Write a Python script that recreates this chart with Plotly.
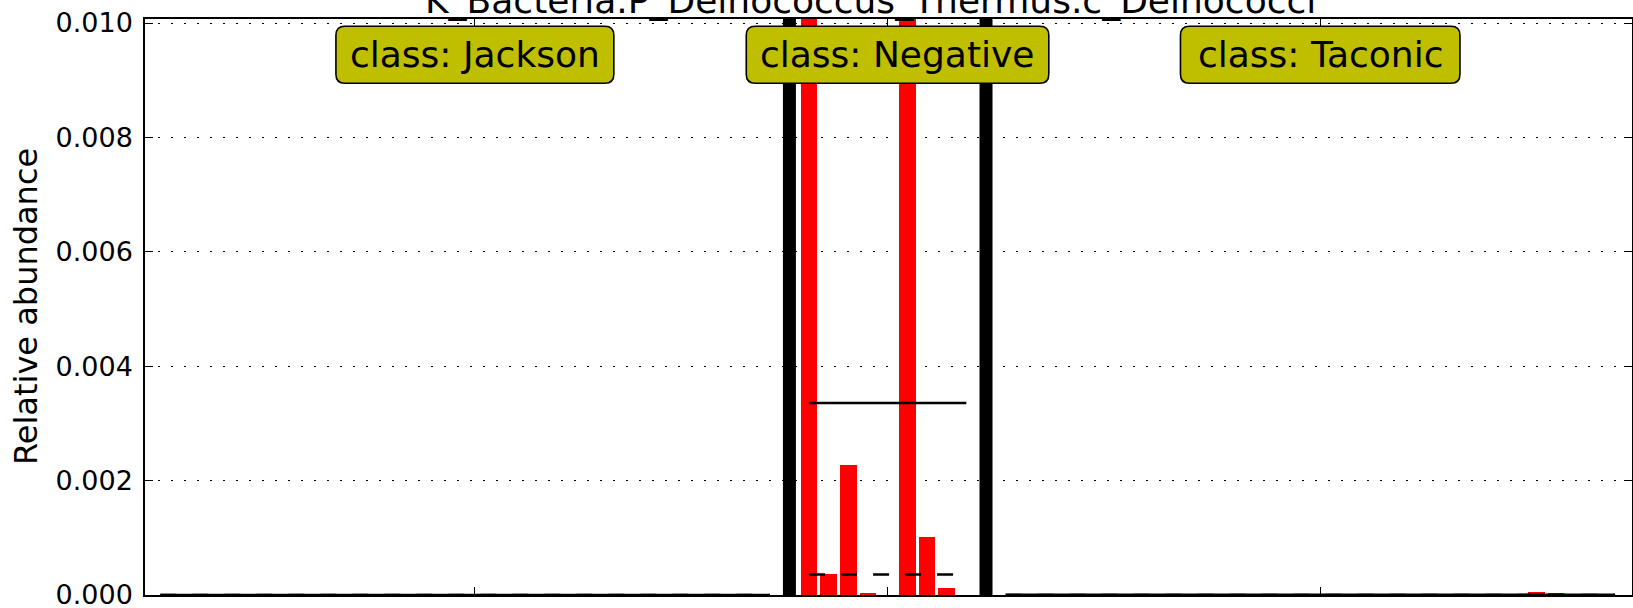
import numpy as np
import plotly.graph_objects as go

# ---------------- data ----------------
TITLE = "K_Bacteria.P_Deinococcus_Thermus.c_Deinococci"
Y_LABEL = "Relative abundance"
CLASSES = ["Jackson", "Negative", "Taconic"]

jackson = [0.0, 0.0, 0.0, 0.0, 0.0, 0.0, 0.0, 0.0,
           0.0, 0.0, 0.0, 0.0, 0.0, 0.0, 0.0, 0.0,
           0.0, 0.0, 0.0, 0.0, 0.0, 0.0, 0.0, 0.0,
           0.0, 0.0, 0.0, 0.0, 0.0, 0.0, 0.0, 0.0]
negative = [0.0152, 0.00036, 0.002275, 0.000035, 0.0,
            0.0112, 0.00101, 0.000122, 0.0]
taconic = [0.0, 0.0, 0.0, 0.0, 0.0, 0.0, 0.0, 0.0,
           0.0, 0.0, 0.0, 0.0, 0.0, 0.0, 0.0, 0.0,
           0.0, 0.0, 0.0, 0.0, 0.0, 0.0, 0.0, 0.0,
           0.0, 0.0, 0.0, 0.00005, 0.000035, 0.0, 0.0, 0.0]
VALUES = [jackson, negative, taconic]

Y_TICKS = [0.000, 0.002, 0.004, 0.006, 0.008, 0.010]
Y_MAX = 0.01007
X_RANGE = [-0.78, 74.86]

FONT = "DejaVu Sans"
BOX_COLOR = "#bfbf00"
LABEL_SIZE = 36
# DejaVu Sans advance widths (em) for estimating label box widths
CHAR_EM = {"c": 0.550, "l": 0.278, "a": 0.613, "s": 0.521, ":": 0.337, " ": 0.318,
           "J": 0.295, "k": 0.579, "o": 0.612, "n": 0.634, "N": 0.748, "e": 0.615,
           "g": 0.635, "t": 0.392, "i": 0.278, "v": 0.592, "T": 0.611}


def text_width(s, size):
    return sum(CHAR_EM.get(ch, 0.6) for ch in s) * size


def rounded_box(w, h, r):
    hw, hh = w / 2, h / 2
    return (f"M{-hw + r},{-hh} L{hw - r},{-hh} Q{hw},{-hh} {hw},{-hh + r} "
            f"L{hw},{hh - r} Q{hw},{hh} {hw - r},{hh} L{-hw + r},{hh} "
            f"Q{-hw},{hh} {-hw},{hh - r} L{-hw},{-hh + r} Q{-hw},{-hh} {-hw + r},{-hh} Z")


fig = go.Figure()

start = 0
tickvals = []
label_pos = []
separators = []
for i, (cls, vals) in enumerate(zip(CLASSES, VALUES)):
    n = len(vals)
    xs = list(range(start, start + n))
    if i > 0:
        separators.append(start - 1)
    fig.add_trace(go.Bar(x=xs, y=vals, width=0.85, marker=dict(color="#ff0000", line=dict(width=0)),
                         showlegend=False))
    tickvals.append(start + n // 2)
    label_pos.append(start + n / 2)
    start += n + 1

# mean / median lines drawn above bars
start = 0
for vals in VALUES:
    n = len(vals)
    x0, x1 = start, start + n - 1
    m = float(np.mean(vals))
    med = float(np.median(vals))
    fig.add_trace(go.Scatter(x=[x0, x1], y=[m, m], mode="lines",
                             line=dict(color="black", width=2.5), showlegend=False))
    fig.add_trace(go.Scatter(x=[x0, x1], y=[med, med], mode="lines",
                             line=dict(color="black", width=2.5, dash="16px,16px"), showlegend=False))
    start += n + 1

for sx in separators:
    fig.add_trace(go.Scatter(x=[sx, sx], y=[0, Y_MAX], mode="lines",
                             line=dict(color="black", width=13), showlegend=False))

LABEL_Y = 0.938
for cls, lx in zip(CLASSES, label_pos):
    txt = "class: " + cls
    w = text_width(txt, LABEL_SIZE) + 28
    fig.add_shape(type="path", xref="x", yref="paper", xsizemode="pixel", ysizemode="pixel",
                  xanchor=lx, yanchor=LABEL_Y, path=rounded_box(w, 57, 9),
                  fillcolor=BOX_COLOR, line=dict(color="black", width=1.6), layer="above")
    fig.add_annotation(x=lx, xref="x", y=LABEL_Y, yref="paper", yanchor="middle",
                       text=txt, showarrow=False,
                       font=dict(family=FONT, size=LABEL_SIZE, color="black"))

# title (partly cut off at the top, as in the reference)
fig.add_annotation(x=0.5, xref="paper", xshift=-18, y=1, yref="paper", yanchor="bottom", yshift=-4,
                   text=TITLE, showarrow=False,
                   font=dict(family=FONT, size=36, color="black"))

# y axis title
fig.add_annotation(x=0, xref="paper", xshift=-119, xanchor="center",
                   y=0.5, yref="paper", yanchor="middle", textangle=-90,
                   text=Y_LABEL, showarrow=False,
                   font=dict(family=FONT, size=32, color="black"))

fig.update_layout(
    width=1633, height=608,
    margin=dict(l=145, r=1, t=19, b=13, autoexpand=False),
    paper_bgcolor="white", plot_bgcolor="white",
    bargap=0, barmode="overlay",
    font=dict(family=FONT, color="black"),
    showlegend=False,
)
fig.update_xaxes(range=X_RANGE, tickvals=tickvals, showticklabels=False,
                 ticks="inside", ticklen=8, tickwidth=1.2, tickcolor="black",
                 showline=True, linecolor="black", linewidth=1.5, mirror="ticks",
                 showgrid=False, zeroline=False, automargin=False)
fig.update_yaxes(range=[0, Y_MAX], tickvals=Y_TICKS, tickformat=".3f",
                 ticks="inside", ticklen=8, tickwidth=1.2, tickcolor="black",
                 showline=True, linecolor="black", linewidth=1.5, mirror="ticks",
                 showgrid=True, gridcolor="black", gridwidth=1, griddash="2px,11px",
                 zeroline=False, ticklabelstandoff=5, ticklabeloverflow="allow",
                 automargin=False,
                 tickfont=dict(family=FONT, size=27, color="black"))

fig.write_html("out.html", config={"displayModeBar": False},
               post_script="document.body.style.margin='0';document.body.style.overflow='hidden';")
